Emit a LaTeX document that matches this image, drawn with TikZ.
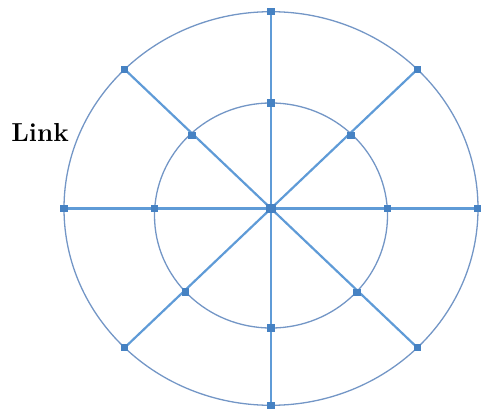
\documentclass[tikz,border=0pt]{standalone}
\begin{document}
\begin{tikzpicture}[x=1pt,y=-1pt,
  ring/.style={draw=ringc,line width=1.3pt},
  spoke/.style={draw=spokec,line width=2.2pt},
  dot/.style={fill=dotc,draw=none,minimum size=7.5pt,inner sep=0pt,rectangle},
  bigdot/.style={dot,minimum size=9.5pt}]
\definecolor{ringc}{RGB}{115,150,198}
\definecolor{spokec}{RGB}{95,155,215}
\definecolor{dotc}{RGB}{70,130,195}
\useasboundingbox (0,0) rectangle (481,414);
\draw[ring] (271,208.5) ellipse [x radius=207, y radius=196.8];
\draw[ring] (271,215.5) ellipse [x radius=116.5, y radius=112.5];
\foreach \i/\a in {0/0,1/45,2/90,3/135,4/180,5/225,6/270,7/315}{
  \coordinate (po\i) at ({271+207*cos(\a)},{208.5-196.8*sin(\a)});
}
\coordinate (c0) at (271,208.5);
\foreach \i in {0,...,7}{
  \draw[spoke] (c0) -- (po\i);
}
\node[bigdot] (c) at (c0) {};
\foreach \i in {0,...,7}{
  \node[dot] (o\i) at (po\i) {};
}
\node[dot] (n0) at (387.5,208.5) {};
\node[dot] (n1) at (351,135.5) {};
\node[dot] (n2) at (271,103) {};
\node[dot] (n3) at (192,135.5) {};
\node[dot] (n4) at (154.5,208.5) {};
\node[dot] (n5) at (185.5,292) {};
\node[dot] (n6) at (271,328) {};
\node[dot] (n7) at (357,292.5) {};
\node[font=\bfseries\fontsize{26}{26}\selectfont,anchor=base] (link) at (40,142) {Link};
\end{tikzpicture}
\end{document}
